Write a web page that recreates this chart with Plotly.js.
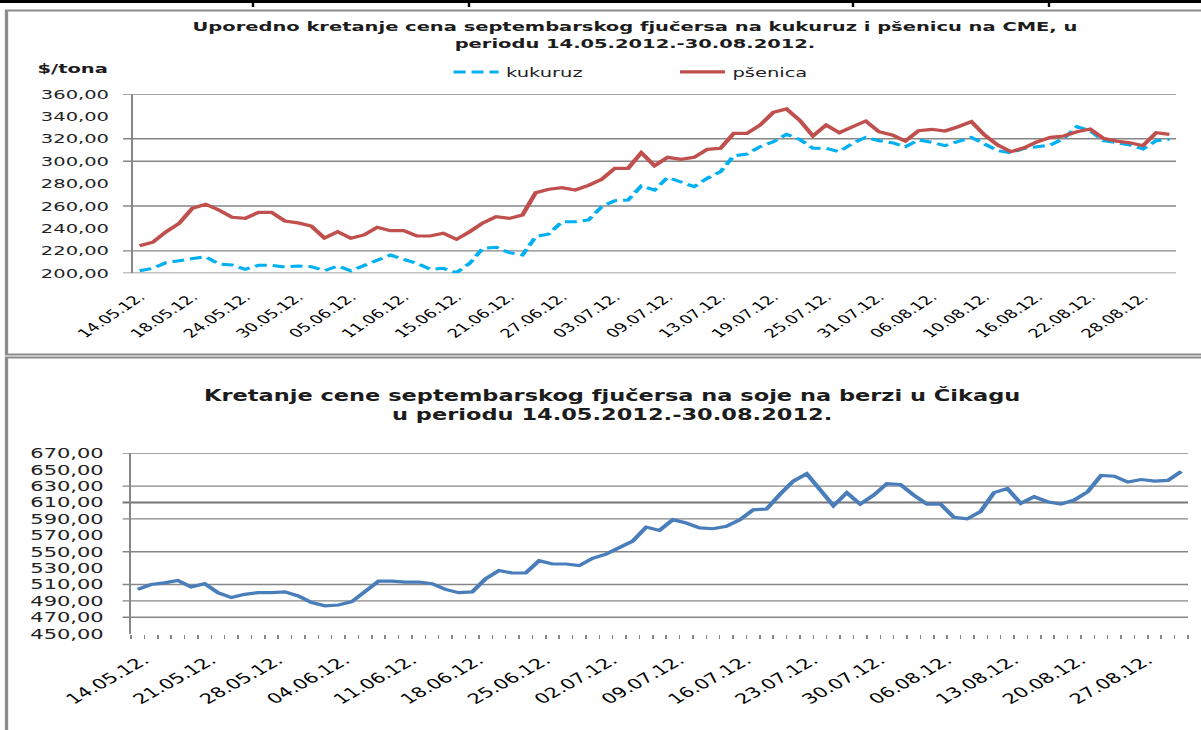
<!DOCTYPE html>
<html>
<head>
<meta charset="utf-8">
<script src="https://cdn.plot.ly/plotly-3.0.1.min.js"></script>
<style>
html,body{margin:0;padding:0;background:#fff;overflow:hidden;}
#wrap{width:1201px;height:730px;overflow:hidden;position:relative;}
#chart{width:801px;height:730px;transform:scaleX(1.49938);transform-origin:0 0;}
</style>
</head>
<body>
<div id="wrap"><div id="chart"></div></div>
<script>
// Trading days (categories)
const datumi = [
 "14.05.12.","15.05.12.","16.05.12.","17.05.12.","18.05.12.","21.05.12.","22.05.12.","23.05.12.","24.05.12.","25.05.12.",
 "28.05.12.","29.05.12.","30.05.12.","31.05.12.","01.06.12.","04.06.12.","05.06.12.","06.06.12.","07.06.12.","08.06.12.",
 "11.06.12.","12.06.12.","13.06.12.","14.06.12.","15.06.12.","18.06.12.","19.06.12.","20.06.12.","21.06.12.","22.06.12.",
 "25.06.12.","26.06.12.","27.06.12.","28.06.12.","29.06.12.","02.07.12.","03.07.12.","04.07.12.","05.07.12.","06.07.12.",
 "09.07.12.","10.07.12.","11.07.12.","12.07.12.","13.07.12.","16.07.12.","17.07.12.","18.07.12.","19.07.12.","20.07.12.",
 "23.07.12.","24.07.12.","25.07.12.","26.07.12.","27.07.12.","30.07.12.","31.07.12.","01.08.12.","02.08.12.","03.08.12.",
 "06.08.12.","07.08.12.","08.08.12.","09.08.12.","10.08.12.","13.08.12.","14.08.12.","15.08.12.","16.08.12.","17.08.12.",
 "20.08.12.","21.08.12.","22.08.12.","23.08.12.","24.08.12.","27.08.12.","28.08.12.","29.08.12.","30.08.12."
];

// Corn (kukuruz), $/t
const kukuruz = [
 202.3,204.4,209.5,211.3,213.4,214.8,208.3,207.4,203.6,207.1,
 207.1,205.6,206.5,205.9,202.3,206.5,202.3,206.8,211.9,216.3,
 212.5,208.9,203.6,204.4,200.6,208.9,222.3,223.2,218.4,216.3,
 232.7,235.1,246.0,246.0,247.6,259.4,264.8,265.4,277.9,274.3,
 285.6,281.7,277.3,284.8,290.7,304.7,306.4,313.0,317.4,324.0,
 319.5,311.5,311.5,308.5,316.0,321.3,318.3,316.5,313.0,319.0,
 316.9,313.9,317.4,321.3,315.4,309.4,307.6,311.5,313.0,314.5,
 320.4,330.8,327.2,318.3,316.5,314.5,310.9,318.3,319.5
];

// Wheat (pšenica), $/t
const psenica = [
 224.6,227.7,237.0,244.6,258.0,261.6,256.5,250.0,249.0,254.4,
 254.4,246.7,245.0,242.2,231.5,237.1,231.3,234.2,241.0,238.0,
 238.0,233.3,233.3,235.7,230.3,237.1,245.0,250.5,249.0,252.0,
 271.9,275.0,276.4,274.4,278.5,283.9,293.7,293.7,307.6,296.0,
 303.5,301.7,303.5,310.6,311.5,324.9,324.9,332.3,343.6,346.6,
 336.5,322.5,332.3,325.5,330.8,335.9,326.3,323.4,318.0,327.2,
 328.5,327.0,330.8,335.3,323.4,314.5,308.5,312.0,317.4,321.3,
 322.5,326.3,328.7,320.4,318.0,316.5,313.9,325.5,324.0
];

// Soybeans (soja)
const soja = [
 504,510,512,515,507,511,500,494,498,500,
 500,501,496,488,484,485,489,501,514,514,
 513,513,511,504,500,501,517,527,524,524,
 539,535,535,533,542,547,555,563,580,576,
 589,585,579,578,581,589,601,602,620,636,
 645,625,606,622,608,619,633,632,619,608,
 608,592,590,599,622,627,609,617,611,608,
 613,623,643,642,635,638,636,637,648
];

// Gridlines that are visible in the picture
const gornjaMreza = [360,320,300,260,220,200];
const donjaMreza = [670,630,590,550,510,490,470];
const donjaMrezaJaka = [610];

const W = 1201, H = 730;
const px = v => v / W;           // reference x pixel -> paper fraction
const py = v => 1 - v / H;       // reference y pixel -> paper fraction

const GRID = '#868686';
const FRAME = '#8c8c8c';

const shapes = [];
// page decoration: black rule on top and table cell marks
shapes.push({type:'rect', xref:'paper', yref:'paper', x0:0, x1:1, y0:py(3), y1:1.01, fillcolor:'#000', line:{width:0}});
[253,469,853,1049].forEach(x => shapes.push({type:'line', xref:'paper', yref:'paper', x0:px(x), x1:px(x), y0:py(7), y1:1, line:{color:'#000', width:1.6}}));
// chart frames
shapes.push({type:'rect', xref:'paper', yref:'paper', x0:px(6.5), x1:1.05, y0:py(354.5), y1:py(10.5), line:{color:FRAME, width:2.2}, fillcolor:'rgba(0,0,0,0)'});
shapes.push({type:'rect', xref:'paper', yref:'paper', x0:px(6.5), x1:1.05, y0:-0.05, y1:py(357.5), line:{color:FRAME, width:2.2}, fillcolor:'rgba(0,0,0,0)'});
// gridlines
gornjaMreza.forEach(v => shapes.push({type:'line', xref:'x domain', yref:'y', x0:-0.0096, x1:1, y0:v, y1:v, layer:'below', line:{color:GRID, width:1.4}}));
donjaMreza.forEach(v => shapes.push({type:'line', xref:'x2 domain', yref:'y2', x0:-0.008, x1:1, y0:v, y1:v, layer:'below', line:{color:GRID, width:1.4}}));
donjaMrezaJaka.forEach(v => shapes.push({type:'line', xref:'x2 domain', yref:'y2', x0:-0.008, x1:1, y0:v, y1:v, layer:'below', line:{color:'#767676', width:2.2}}));

const data = [
 {type:'scatter', mode:'lines', name:'kukuruz', x:datumi, y:kukuruz, xaxis:'x', yaxis:'y',
  line:{color:'#00B0F0', width:3, dash:'8px,4px'}, hoverinfo:'skip'},
 {type:'scatter', mode:'lines', name:'pšenica', x:datumi, y:psenica, xaxis:'x', yaxis:'y',
  line:{color:'#C0504D', width:3.2}, hoverinfo:'skip'},
 {type:'scatter', mode:'lines', name:'soja', x:datumi, y:soja, xaxis:'x2', yaxis:'y2',
  line:{color:'#4A7EBB', width:3.2}, showlegend:false, hoverinfo:'skip'},
 // same series bound to the tick-mark axis (invisible), so that axis gets drawn
 {type:'scatter', mode:'lines', name:'soja ', x:datumi, y:soja, xaxis:'x3', yaxis:'y2',
  line:{color:'rgba(0,0,0,0)', width:0}, showlegend:false, hoverinfo:'skip'}
];

const layout = {
 width:801, height:730,
 margin:{l:0, r:0, t:0, b:0},
 paper_bgcolor:'#ffffff', plot_bgcolor:'rgba(0,0,0,0)',
 separators:', ',
 font:{family:'DejaVu Sans', color:'#222222'},
 title:{
  text:'Uporedno kretanje cena septembarskog fjučersa na kukuruz i pšenicu na CME, u<br>periodu 14.05.2012.-30.08.2012.',
  x:0.5287, xref:'paper', xanchor:'center', y:py(31), yref:'container', yanchor:'middle',
  font:{family:'DejaVu Sans', size:13, weight:'bold', color:'#1c1c1c'}
 },
 showlegend:true,
 legend:{orientation:'h', x:0.3714, xanchor:'left', y:py(72), yanchor:'middle',
  font:{family:'DejaVu Sans', size:13, color:'#222'}, bgcolor:'rgba(0,0,0,0)',
  entrywidth:106, itemwidth:30, traceorder:'normal'},
 xaxis:{domain:[px(133), px(1176)], anchor:'y', type:'category', range:[-0.5,78.5],
  tickmode:'linear', tick0:0, dtick:4, tickangle:-45, ticks:'outside', ticklen:11, tickcolor:'rgba(0,0,0,0)',
  showline:false, showgrid:false, zeroline:false,
  tickfont:{family:'DejaVu Sans', size:12, color:'#000'}, fixedrange:true},
 yaxis:{domain:[py(273.3), py(94)], anchor:'x', range:[200,360], tick0:200, dtick:20, tickformat:'.2f',
  showgrid:false, zeroline:false, showline:true, linecolor:GRID, linewidth:1.4,
  ticks:'outside', ticklen:12, tickcolor:'rgba(0,0,0,0)',
  tickfont:{family:'DejaVu Sans', size:13, color:'#222'}, fixedrange:true},
 // bottom chart: category axis carrying the date labels
 xaxis2:{domain:[px(131), px(1188)], anchor:'y2', type:'category', range:[-0.5,78.5],
  tickmode:'linear', tick0:0, dtick:5, ticks:'outside', ticklen:12, tickcolor:'rgba(0,0,0,0)', tickangle:-40,
  ticklabelshift:4,
  showline:false, showgrid:false, zeroline:false,
  tickfont:{family:'DejaVu Sans', size:14, color:'#000'}, fixedrange:true},
 // bottom chart: tick marks at every category boundary (no labels)
 xaxis3:{domain:[px(131), px(1188)], anchor:'y2', overlaying:'x2', type:'category', range:[-0.5,78.5],
  tickmode:'linear', tick0:0, dtick:1, tickson:'boundaries', ticks:'outside', ticklen:4, tickwidth:1, tickcolor:GRID,
  showticklabels:false, showline:false, showgrid:false, zeroline:false, fixedrange:true},
 yaxis2:{domain:[py(633.7), py(453.3)], anchor:'x2', range:[450,670], tick0:450, dtick:20, tickformat:'.2f',
  showgrid:false, zeroline:false, showline:true, linecolor:GRID, linewidth:1.4,
  ticks:'outside', ticklen:14, tickcolor:'rgba(0,0,0,0)',
  tickfont:{family:'DejaVu Sans', size:14, color:'#222'}, fixedrange:true},
 shapes:shapes,
 annotations:[
  {text:'$/tona', xref:'paper', yref:'paper', x:px(35), y:py(68), xanchor:'left', yanchor:'middle', showarrow:false,
   font:{family:'DejaVu Sans', size:13, weight:'bold', color:'#1c1c1c'}},
  {text:'Kretanje cene septembarskog fjučersa na soje na berzi u Čikagu<br>u periodu 14.05.2012.-30.08.2012.',
   xref:'paper', yref:'paper', x:px(613), y:py(405), xanchor:'center', yanchor:'middle', showarrow:false,
   font:{family:'DejaVu Sans', size:15, weight:'bold', color:'#1c1c1c'}}
 ]
};

Plotly.newPlot('chart', data, layout, {staticPlot:true, displayModeBar:false});
</script>
</body>
</html>
